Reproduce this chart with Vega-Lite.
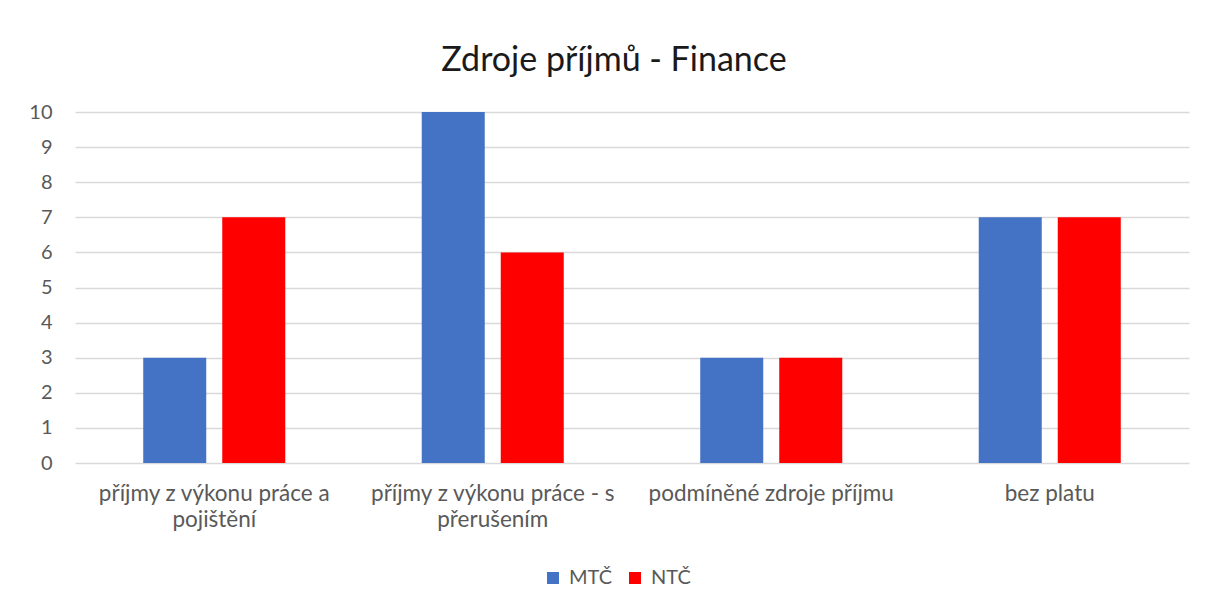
{
  "$schema": "https://vega.github.io/schema/vega-lite/v6.json",
  "autosize": {"type": "none"},
  "width": 1114,
  "height": 351,
  "padding": {"left": 75, "top": 112, "right": 17, "bottom": 145},
  "background": "white",
  "data": {
    "values": [
      {"kategorie": "příjmy z výkonu práce a pojištění", "skupina": "MTČ", "pocet": 3},
      {"kategorie": "příjmy z výkonu práce a pojištění", "skupina": "NTČ", "pocet": 7},
      {"kategorie": "příjmy z výkonu práce - s přerušením", "skupina": "MTČ", "pocet": 10},
      {"kategorie": "příjmy z výkonu práce - s přerušením", "skupina": "NTČ", "pocet": 6},
      {"kategorie": "podmíněné zdroje příjmu", "skupina": "MTČ", "pocet": 3},
      {"kategorie": "podmíněné zdroje příjmu", "skupina": "NTČ", "pocet": 3},
      {"kategorie": "bez platu", "skupina": "MTČ", "pocet": 7},
      {"kategorie": "bez platu", "skupina": "NTČ", "pocet": 7}
    ]
  },
  "title": {
    "text": "Zdroje příjmů - Finance",
    "fontSize": 34,
    "font": "Lato",
    "fontWeight": "normal",
    "color": "#1a1a1a",
    "anchor": "middle",
    "dx": -18,
    "offset": 24
  },
  "mark": {"type": "bar"},
  "encoding": {
    "x": {
      "field": "kategorie",
      "type": "nominal",
      "sort": null,
      "scale": {"paddingInner": 0.49, "paddingOuter": 0.245},
      "axis": {
        "title": null,
        "labelAngle": 0,
        "labelFontSize": 22.5,
        "labelFont": "Lato",
        "labelColor": "#595959",
        "labelPadding": 19,
        "labelLineHeight": 26,
        "labelLimit": 400,
        "domain": false,
        "ticks": false,
        "labelExpr": "datum.label == 'příjmy z výkonu práce a pojištění' ? ['příjmy z výkonu práce a', 'pojištění'] : datum.label == 'příjmy z výkonu práce - s přerušením' ? ['příjmy z výkonu práce - s', 'přerušením'] : datum.label"
      }
    },
    "xOffset": {
      "field": "skupina",
      "type": "nominal",
      "scale": {"paddingInner": 0.2025, "paddingOuter": 0}
    },
    "y": {
      "field": "pocet",
      "type": "quantitative",
      "scale": {"domain": [0, 10], "nice": false},
      "axis": {
        "title": null,
        "values": [0, 1, 2, 3, 4, 5, 6, 7, 8, 9, 10],
        "labelFontSize": 20,
        "labelFont": "Lato",
        "labelColor": "#595959",
        "labelPadding": 23,
        "domain": false,
        "ticks": false,
        "gridColor": "#d9d9d9",
        "gridWidth": 1.5
      }
    },
    "color": {
      "field": "skupina",
      "type": "nominal",
      "scale": {"domain": ["MTČ", "NTČ"], "range": ["#4472C4", "#FF0000"]},
      "legend": {
        "title": null,
        "orient": "none",
        "direction": "horizontal",
        "legendX": 468,
        "legendY": 456,
        "symbolType": "square",
        "symbolSize": 145,
        "symbolStrokeWidth": 0,
        "labelFontSize": 20,
        "labelFont": "Lato",
        "labelColor": "#595959",
        "columnPadding": 12,
        "labelOffset": 6
      }
    }
  },
  "config": {
    "view": {"stroke": null}
  }
}
